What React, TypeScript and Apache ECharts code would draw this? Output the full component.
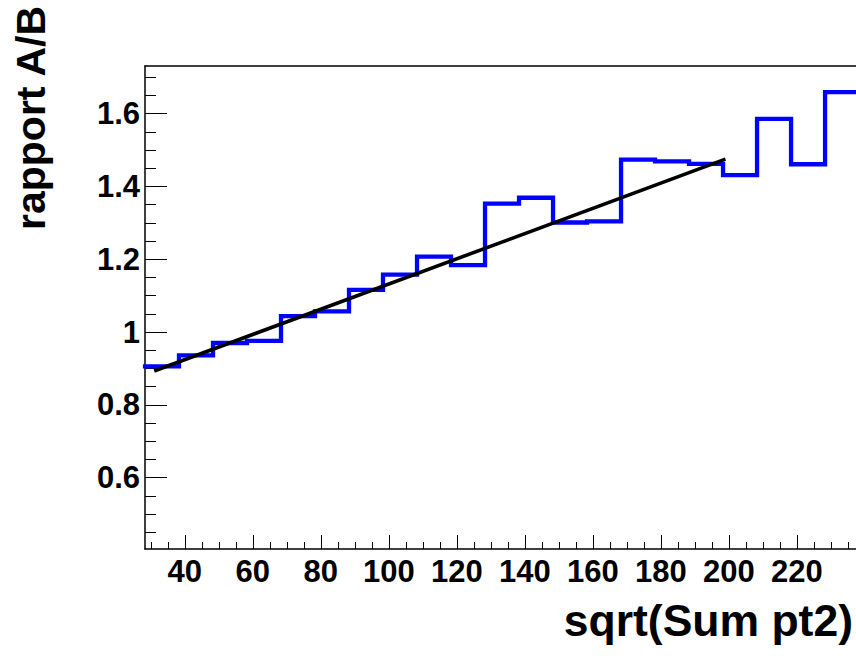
import React, { useEffect, useRef } from "react";
import * as echarts from "echarts";

// Histogram bin edges (x) and ratio per bin
const binEdges = [28.3, 38.3, 48.3, 58.3, 68.3, 78.3, 88.3, 98.3, 108.3, 118.3, 128.3, 138.3, 148.3, 158.3, 168.3, 178.3, 188.3, 198.3, 208.3, 218.3, 228.3, 238.3];
const ratio = [0.906, 0.936, 0.970, 0.976, 1.044, 1.057, 1.116, 1.158, 1.207, 1.184, 1.353, 1.369, 1.301, 1.304, 1.474, 1.469, 1.462, 1.431, 1.586, 1.461, 1.659];

// Linear fit line endpoints
const fitX = [31, 199];
const fitY = [0.893, 1.475];

// Tick values
const xMajor = [40, 60, 80, 100, 120, 140, 160, 180, 200, 220];
const xMinor = [30, 35, 45, 50, 55, 65, 70, 75, 85, 90, 95, 105, 110, 115, 125, 130, 135, 145, 150, 155, 165, 170, 175, 185, 190, 195, 205, 210, 215, 225, 230, 235];
const yMajor = [0.6, 0.8, 1, 1.2, 1.4, 1.6];
const yMinor = [0.45, 0.5, 0.55, 0.65, 0.7, 0.75, 0.85, 0.9, 0.95, 1.05, 1.1, 1.15, 1.25, 1.3, 1.35, 1.45, 1.5, 1.55, 1.65, 1.7];

const xTitle = "sqrt(Sum pt2)";
const yTitle = "rapport A/B";

const FONT = "'Liberation Sans', Arial, Helvetica, sans-serif";

export default function App() {
  const ref = useRef<HTMLDivElement>(null);
  useEffect(() => {
    document.body.style.margin = "0";
    const chart = echarts.init(ref.current!, null, { renderer: "svg" });
    const histData: number[][] = ratio.map((v, i) => [binEdges[i], v]);
    histData.push([binEdges[ratio.length], ratio[ratio.length - 1]]);
    const fitData = fitX.map((x, i) => [x, fitY[i]]);
    const xMin = 28.3, xMax = 237.4, yMin = 0.404, yMax = 1.731;
    const labelStyle = { fontFamily: FONT, fontWeight: "bold" as const, fontSize: 31, color: "#000" };
    chart.setOption({
      animation: false,
      backgroundColor: "#fff",
      grid: { left: 145, top: 66, right: 0, bottom: 107, containLabel: false },
      xAxis: [
        {
          type: "value", position: "bottom", min: xMin, max: xMax,
          axisLine: { show: true, onZero: false, lineStyle: { color: "#000", width: 1.5 } },
          axisTick: { show: true, inside: true, length: 14, customValues: xMajor, lineStyle: { color: "#000", width: 1 } },
          axisLabel: { show: true, customValues: xMajor, margin: 7, ...labelStyle },
          splitLine: { show: false },
        },
        {
          type: "value", position: "bottom", min: xMin, max: xMax,
          axisLine: { show: false },
          axisTick: { show: true, inside: true, length: 7, customValues: xMinor, lineStyle: { color: "#000", width: 1 } },
          axisLabel: { show: false },
          splitLine: { show: false },
        },
        {
          type: "value", position: "top", min: xMin, max: xMax,
          axisLine: { show: true, onZero: false, lineStyle: { color: "#000", width: 1.5 } },
          axisTick: { show: false },
          axisLabel: { show: false },
          splitLine: { show: false },
        },
      ],
      yAxis: [
        {
          type: "value", position: "left", min: yMin, max: yMax,
          axisLine: { show: true, onZero: false, lineStyle: { color: "#000", width: 1.5 } },
          axisTick: { show: true, inside: true, length: 22, customValues: yMajor, lineStyle: { color: "#000", width: 1 } },
          axisLabel: { show: true, customValues: yMajor, margin: 5, ...labelStyle },
          splitLine: { show: false },
        },
        {
          type: "value", position: "left", min: yMin, max: yMax,
          axisLine: { show: false },
          axisTick: { show: true, inside: true, length: 11, customValues: yMinor, lineStyle: { color: "#000", width: 1 } },
          axisLabel: { show: false },
          splitLine: { show: false },
        },
      ],
      series: [
        {
          type: "line", xAxisIndex: 0, yAxisIndex: 0, step: "end", data: histData,
          symbol: "none", showSymbol: false,
          lineStyle: { color: "#0000ff", width: 4.3, join: "miter", cap: "square" },
          z: 2,
        },
        {
          type: "line", xAxisIndex: 0, yAxisIndex: 0, data: fitData,
          symbol: "none", showSymbol: false,
          lineStyle: { color: "#000", width: 3.6 },
          z: 3,
        },
      ],
      graphic: [
        {
          type: "text", right: 3, top: 598,
          style: { text: xTitle, font: `bold 44.5px ${FONT}`, fill: "#000" },
        },
        {
          type: "text", x: 31, y: 6, rotation: Math.PI / 2,
          style: { text: yTitle, font: `bold 41px ${FONT}`, fill: "#000", align: "right", verticalAlign: "middle" },
        },
      ],
    });
    return () => chart.dispose();
  }, []);
  return <div ref={ref} style={{ position: "absolute", left: 0, top: 0, width: 856, height: 656 }} />;
}
